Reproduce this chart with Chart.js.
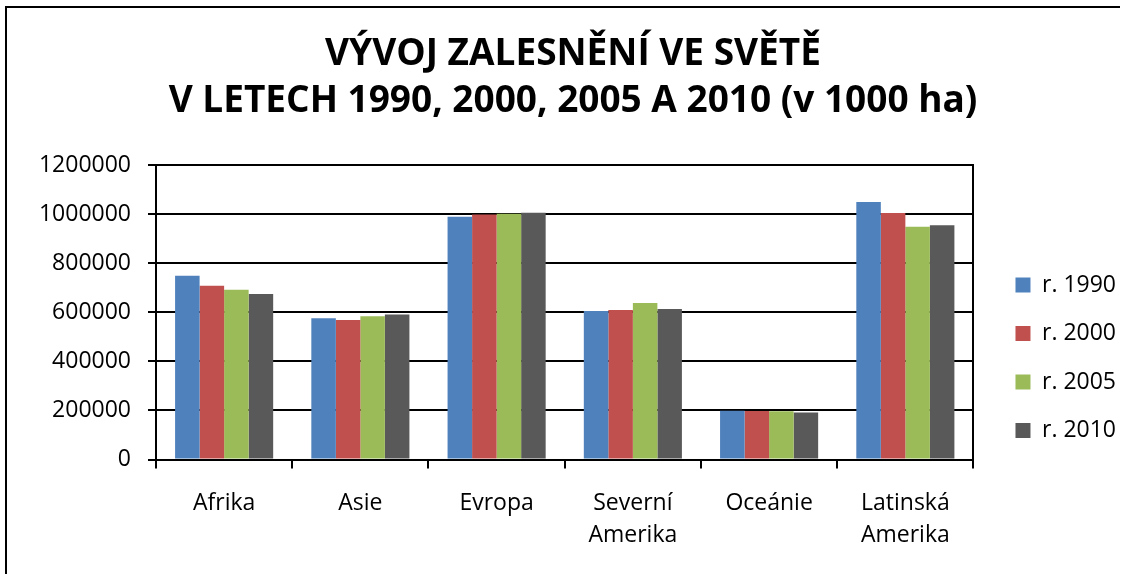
<!DOCTYPE html>
<html>
<head>
<meta charset="utf-8">
<script src="https://cdn.jsdelivr.net/npm/chart.js@4.4.0/dist/chart.umd.min.js"></script>
<style>
  html, body { margin: 0; padding: 0; background: #fff; }
  #wrap { width: 1126px; height: 574px; }
</style>
</head>
<body>
<div id="wrap"><canvas id="forest-chart" width="1126" height="574"></canvas></div>
<script>
const regions = ['Afrika', 'Asie', 'Evropa', ['Severní', 'Amerika'], 'Oceánie', ['Latinská', 'Amerika']];
const years = ['r. 1990', 'r. 2000', 'r. 2005', 'r. 2010'];
const values1990 = [749238, 576000, 989471, 605000, 198744, 1049000];
const values2000 = [708564, 569000, 998239, 609000, 198381, 1004000];
const values2005 = [691468, 584000, 1001150, 638000, 196745, 948000];
const values2010 = [674419, 591000, 1005001, 613000, 191384, 955000];
const yTicks = [0, 200000, 400000, 600000, 800000, 1000000, 1200000];
const colors = ['#4F81BD', '#C0504D', '#9BBB59', '#595959'];

const seriesValues = [values1990, values2000, values2005, values2010];

Chart.defaults.font.family = "'Open Sans', sans-serif";
Chart.defaults.color = '#000';

// outer frame of the chart object (top + left edge)
const framePlugin = {
    id: 'frame',
    afterDraw(chart) {
        const ctx = chart.ctx;
        ctx.save();
        ctx.strokeStyle = '#000';
        ctx.lineWidth = 2;
        ctx.beginPath();
        ctx.moveTo(6, 574);
        ctx.lineTo(6, 7);
        ctx.lineTo(1120, 7);
        ctx.stroke();
        ctx.restore();
    }
};

new Chart(document.getElementById('forest-chart'), {
    type: 'bar',
    data: {
        labels: regions,
        datasets: years.map((year, i) => ({
            label: year,
            data: seriesValues[i],
            backgroundColor: colors[i],
            borderWidth: 0,
            categoryPercentage: 0.72,
            barPercentage: 1.0,
        })),
    },
    options: {
        responsive: false,
        animation: false,
        layout: {
            padding: { left: 20, right: 0, top: 0, bottom: 3 },
        },
        plugins: {
            title: {
                display: true,
                text: ['VÝVOJ ZALESNĚNÍ VE SVĚTĚ', 'V LETECH 1990, 2000, 2005 A 2010 (v 1000 ha)'],
                font: { size: 37, weight: 'bold', lineHeight: 1.27 },
                color: '#000',
                padding: { top: 31, bottom: 40 },
            },
            legend: {
                position: 'right',
                align: 'start',
                title: {
                    display: true,
                    text: '',
                    font: { size: 10, lineHeight: 1 },
                    padding: { top: 238, bottom: 0 },
                },
                labels: {
                    boxWidth: 15,
                    boxHeight: 15,
                    padding: 25.5,
                    font: { size: 23 },
                    color: '#000',
                },
            },
            tooltip: { enabled: false },
        },
        scales: {
            x: {
                grid: {
                    display: true,
                    drawOnChartArea: false,
                    drawTicks: true,
                    tickLength: 9,
                    color: '#000',
                    lineWidth: 2,
                },
                border: { display: true, color: '#000', width: 2 },
                ticks: {
                    font: { size: 23, lineHeight: 1.4 },
                    padding: 19,
                    maxRotation: 0,
                    autoSkip: false,
                    color: '#000',
                },
            },
            y: {
                min: 0,
                max: 1200000,
                afterBuildTicks(scale) {
                    scale.ticks = yTicks.map(v => ({ value: v }));
                },
                afterFit(scale) {
                    scale.width = 136;
                },
                grid: {
                    color: '#000',
                    lineWidth: 2,
                    tickLength: 8,
                },
                border: { display: true, color: '#000', width: 2 },
                ticks: {
                    font: { size: 23 },
                    padding: 17,
                    color: '#000',
                    callback: v => String(v),
                },
            },
            yRight: {
                position: 'right',
                display: true,
                afterFit(scale) {
                    scale.width = 16.5;
                },
                grid: { display: false, drawTicks: false },
                border: { display: true, color: '#000', width: 2 },
                ticks: { display: false },
            },
        },
    },
    plugins: [framePlugin],
});
</script>
</body>
</html>
